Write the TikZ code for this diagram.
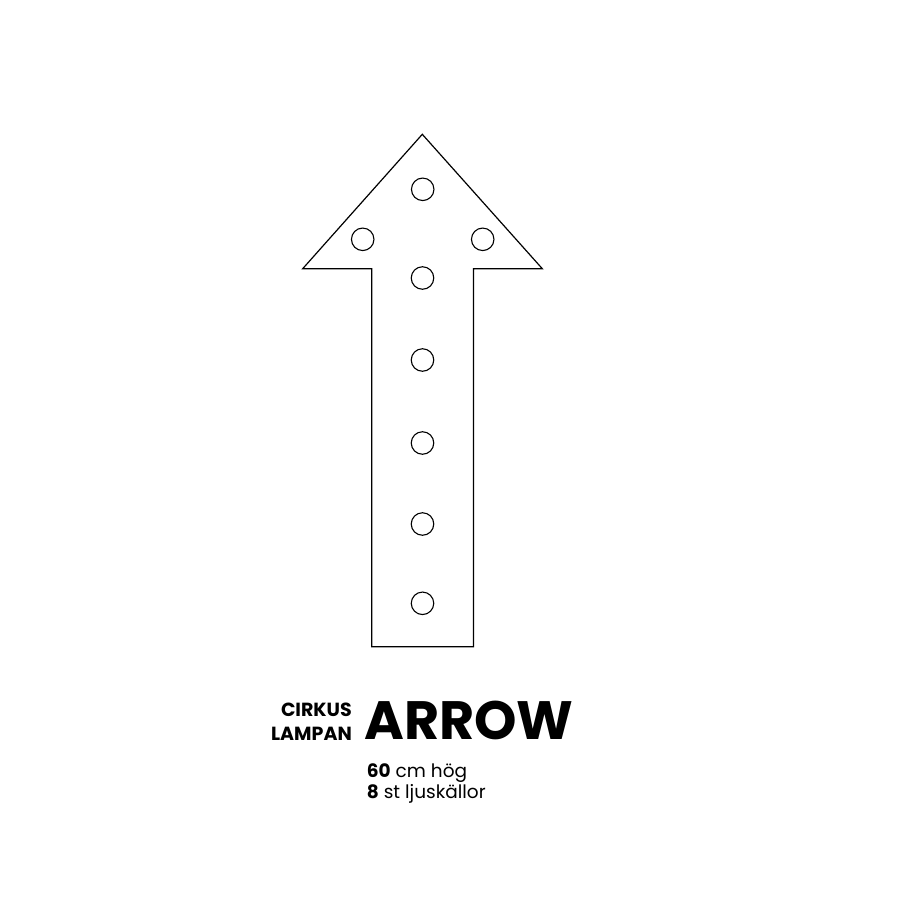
\documentclass[tikz,border=0pt]{standalone}
\usepackage{fontspec}
\setmainfont{Poppins}
\newfontfamily\popbold{Poppins}[UprightFont={* Bold},BoldFont={* Bold}]
\begin{document}
\begin{tikzpicture}[x=1pt,y=-1pt,
  outline/.style={draw=black,line width=1.2pt,line join=miter},
  bulb/.style={circle,draw=black,line width=1.1pt,minimum size=22.5pt,inner sep=0pt}]
\useasboundingbox[fill=white] (0,0) rectangle (900,900);
% arrow outline
\draw[outline] (422.3,134.3) -- (542.3,268.7) -- (473.5,268.7) -- (473.5,646.7)
  -- (371.7,646.7) -- (371.7,268.7) -- (302.7,268.7) -- cycle;
% bulbs
\node[bulb] (b1) at (422.7,189.3) {};
\node[bulb] (b2) at (362.7,239.3) {};
\node[bulb] (b3) at (482.7,239.3) {};
\node[bulb] (b4) at (422.5,278) {};
\node[bulb] (b5) at (422.5,360) {};
\node[bulb] (b6) at (422.5,443) {};
\node[bulb] (b7) at (422.5,524) {};
\node[bulb] (b8) at (422.5,603.3) {};
% texts
\node[anchor=base west,inner sep=0pt,font=\popbold\fontsize{54}{54}\selectfont] (title) at (364,739.3) {ARROW};
\node[anchor=base east,inner sep=0pt,font=\popbold\fontsize{19}{19}\selectfont] (cirkus) at (352,716.7) {CIRKUS};
\node[anchor=base east,inner sep=0pt,font=\popbold\fontsize{19}{19}\selectfont] (lampan) at (352,740) {LAMPAN};
\node[anchor=base west,inner sep=0pt,font=\fontsize{18.5}{18.5}\selectfont] (height) at (366.7,777.7) {{\popbold 60} cm hög};
\node[anchor=base west,inner sep=0pt,font=\fontsize{18.5}{18.5}\selectfont] (lights) at (366.7,798.7) {{\popbold 8} st ljuskällor};
\end{tikzpicture}
\end{document}
